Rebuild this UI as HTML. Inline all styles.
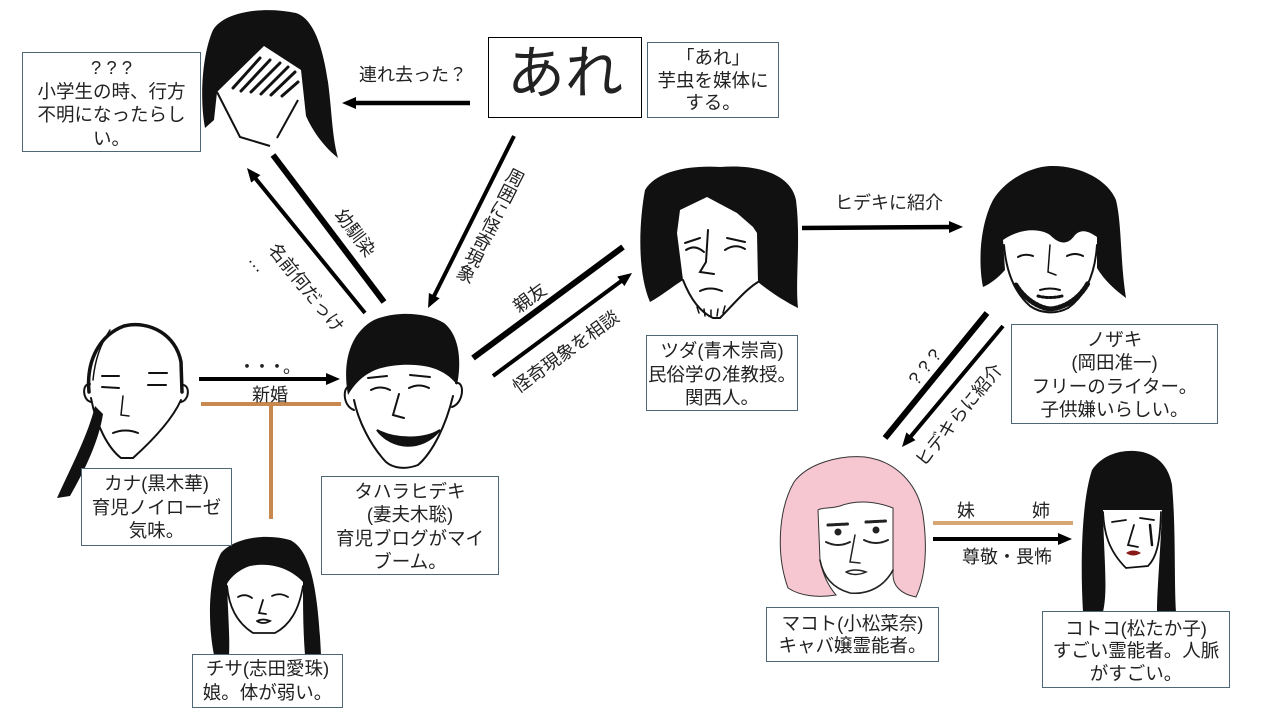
<!DOCTYPE html>
<html><head><meta charset="utf-8">
<style>
html,body{margin:0;padding:0;background:#fff;}
body{width:1280px;height:720px;position:relative;overflow:hidden;font-family:"Liberation Sans","Noto Sans CJK JP",sans-serif;color:#222;}
svg{position:absolute;left:0;top:0;}
.box{position:absolute;border:1px solid #4d6776;box-sizing:border-box;text-align:center;font-size:18.5px;line-height:23.5px;white-space:nowrap;background:#fff;}
.lb{position:absolute;font-size:18px;line-height:1;white-space:nowrap;transform:translate(-50%,-50%);}
.vt{writing-mode:vertical-rl;}
</style></head><body>
<svg width="1280" height="720" viewBox="0 0 1280 720">
<defs><marker id="ah" viewBox="0 0 14 12" refX="4" refY="6" markerWidth="14" markerHeight="12" markerUnits="userSpaceOnUse" orient="auto"><path d="M0,0 L14,6 L0,12 Z" fill="#000"/></marker></defs>

<!-- Face 1: hidden face -->
<path d="M205,128 C199,95 203,52 213,30 C224,12 262,6 296,13 C314,19 323,48 328,82 C332,112 332,137 338,158 C327,149 315,136 306,116 L301,70 L264,46 L217,92 L214,120 Z" fill="#111"/>
<path d="M217,92 L240,137 L270,146" fill="none" stroke="#111" stroke-width="2"/>
<path d="M298,100 L277,138" stroke="#111" stroke-width="2"/>
<g stroke="#111" stroke-width="3" stroke-linecap="round">
<line x1="233" y1="88" x2="260" y2="58"/>
<line x1="241" y1="91" x2="270" y2="60"/>
<line x1="251" y1="92" x2="280" y2="63"/>
<line x1="261" y1="94" x2="288" y2="67"/>
<line x1="271" y1="95" x2="295" y2="72"/>
<line x1="282" y1="96" x2="298" y2="82"/>
</g>

<!-- Face 2: Hideki -->
<path d="M348,395 C342,362 350,333 374,320 C395,311 426,312 444,323 C459,335 462,360 457,385 C452,378 446,374 440,371 C425,363 396,363 378,369 C364,374 355,383 348,395 Z" fill="#111"/>
<g fill="none" stroke="#111" stroke-width="2" stroke-linecap="round">
<path d="M354,400 C358,420 370,445 386,462 C393,468 405,470 418,465 C433,452 446,425 453,396"/>
<path d="M352,386 C342,384 342,406 354,410"/>
<path d="M456,383 C465,381 464,403 452,407"/>
<path d="M368,378 L387,376"/><path d="M410,375 L430,377"/>
<path d="M371,390 Q380,385 390,390"/><path d="M409,388 Q419,383 429,388"/>
<path d="M399,394 L393,415 L404,418"/>
</g>
<path d="M377,430 C392,450 422,452 440,430 C425,440 395,440 377,430 Z" fill="#111" stroke="#111" stroke-width="2"/>

<!-- Face 3: Kana -->
<g fill="none" stroke="#111" stroke-linecap="round">
<path d="M89,392 C86,360 100,335 124,326 C150,320 176,335 181,362 L182,392" stroke-width="3.5"/>
<path d="M110,330 C100,345 95,360 93,380" stroke-width="1.5"/>
<path d="M91,398 C96,425 108,448 121,458 L133,458 C153,440 172,420 181,400" stroke-width="2"/>
<path d="M90,384 C82,383 82,400 91,402" stroke-width="2"/>
<path d="M182,385 C190,384 190,400 181,402" stroke-width="2"/>
<path d="M102,376 L119,376" stroke-width="2"/><path d="M149,373 L167,373" stroke-width="2"/>
<path d="M102,387 L119,388" stroke-width="2"/><path d="M148,385 L166,385" stroke-width="2"/>
<path d="M123,396 L121,415 L129,416" stroke-width="1.5"/>
<path d="M113,433 Q125,428 138,433" stroke-width="2"/>
</g>
<path d="M95,406 C88,435 72,465 57,498 L70,496 C86,468 99,440 103,414 Z" fill="#111"/>

<!-- Face 4: Chisa -->
<path d="M214,655 C207,620 209,575 221,553 C234,538 265,533 290,540 C311,550 318,590 321,655 L305,655 C303,630 303,605 303,582 C290,568 270,562 250,566 C238,570 230,578 227,584 C228,612 230,640 229,655 Z" fill="#111"/>
<g fill="none" stroke="#111" stroke-width="1.8" stroke-linecap="round">
<path d="M227,586 C229,606 236,622 253,633 L275,633 C290,625 299,610 303,586"/>
<path d="M238,597 Q245,593 252,598"/><path d="M272,596 Q280,592 288,597"/>
<path d="M263,600 L259,613 L266,614"/>
<path d="M257,621 Q263,618 270,621 Q263,625 257,621"/>
</g>

<!-- Face 5: Tsuda -->
<path d="M650,302 C637,272 639,222 645,190 C656,171 690,165 720,167 C760,164 791,175 796,200 C801,240 795,280 798,308 C786,302 770,292 758,282 L757,233 L753,227 L737,213 L707,197 L680,210 L677,233 L683,280 C672,287 661,296 650,302 Z" fill="#111"/>
<g fill="none" stroke="#111" stroke-width="2" stroke-linecap="round">
<path d="M683,280 C690,298 700,312 713,318 L720,318 C733,305 745,290 758,282"/>
<path d="M686,250 Q695,244 704,252"/><path d="M725,250 Q735,243 745,249"/>
<path d="M685,243 L700,238"/><path d="M727,238 L745,242"/>
<path d="M708,230 L706,262 L700,272 L714,274"/>
<path d="M700,291 Q710,286 722,291"/>
<path d="M697,307 L699,313 M704,309 L705,316 M711,310 L711,317 M718,309 L717,316 M725,306 L723,313" stroke-width="1.5"/>
</g>

<!-- Face 6: Nozaki -->
<path d="M983,287 C978,262 980,225 993,200 C1005,180 1030,167 1050,166 C1080,165 1108,180 1116,200 C1122,225 1120,260 1126,298 C1115,290 1104,280 1097,268 L1097,237 C1090,232 1082,228 1075,235 C1068,245 1060,245 1050,235 C1040,228 1020,228 1003,240 L1005,270 C998,278 990,284 983,287 Z" fill="#111"/>
<g fill="none" stroke="#111" stroke-linecap="round">
<path d="M1004,245 C1006,270 1014,292 1030,306 C1040,313 1055,315 1068,308 C1085,296 1095,275 1097,245" stroke-width="2"/>
<path d="M1018,257 Q1025,253 1033,256" stroke-width="2"/><path d="M1067,256 Q1075,252 1083,256" stroke-width="2"/>
<path d="M1050,245 L1048,272 L1056,275" stroke-width="1.5"/>
<path d="M1040,290 Q1050,287 1060,290" stroke-width="2"/>
<path d="M1016,285 C1025,300 1040,308 1050,309 C1065,308 1080,298 1088,283" stroke-width="5" stroke-dasharray="2 2"/>
<path d="M1038,296 C1045,298 1055,298 1062,296" stroke-width="3" stroke-dasharray="2 2"/>
</g>

<!-- Face 7: Makoto (pink) -->
<path d="M788,588 C776,555 778,510 794,482 C808,463 840,455 865,457 C896,461 918,484 923,515 C928,550 925,578 916,597 C900,594 893,585 893,575 L893,508 C878,502 858,499 840,506 C830,509 822,507 818,510 L820,560 C823,576 830,588 836,595 C818,598 800,596 788,588 Z" fill="#f6c6d1" stroke="#333" stroke-width="1"/>
<g fill="none" stroke="#222" stroke-linecap="round">
<path d="M820,560 C823,576 832,588 850,593 C870,595 885,585 893,570" stroke-width="1.6"/>
<path d="M828,525 L848,524" stroke-width="3" stroke-dasharray="2 1.5"/><path d="M866,522 L886,521" stroke-width="3" stroke-dasharray="2 1.5"/>
<circle cx="838" cy="532" r="3" fill="#222"/><circle cx="876" cy="530" r="3" fill="#222"/>
<path d="M826,542 Q838,548 850,542" stroke-width="2"/><path d="M864,540 Q876,546 888,540" stroke-width="2"/>
<path d="M855,535 L850,562 L860,563" stroke-width="1.5"/>
<path d="M846,572 Q855,568 866,572 Q855,577 846,572" stroke-width="1.5"/>
</g>

<!-- Face 8: Kotoko -->
<path d="M1083,612 C1080,560 1082,500 1092,470 C1102,455 1120,450 1135,451 C1152,452 1168,462 1172,485 C1176,530 1174,580 1176,612 L1157,612 C1157,590 1160,560 1162,510 L1103,510 C1104,560 1108,590 1103,612 Z" fill="#111"/>
<g fill="none" stroke="#111" stroke-width="1.8" stroke-linecap="round">
<path d="M1103,512 C1104,532 1108,550 1126,568 L1148,566 C1156,558 1160,545 1161,512"/>
<path d="M1112,522 L1126,520"/><path d="M1140,518 L1154,520"/>
<path d="M1134,525 L1128,545 L1138,547"/>
<path d="M1150,525 L1152,545" stroke-width="2.5"/>
</g>
<path d="M1126,553 Q1133,548 1141,553 Q1133,558 1126,553 Z" fill="#8b1a1a"/>

<!-- connectors -->
<g stroke="#000" fill="none">
<line x1="470" y1="103" x2="352" y2="103" stroke-width="4.5" marker-end="url(#ah)"/>
<line x1="514" y1="136" x2="432.5" y2="299.1" stroke-width="4" marker-end="url(#ah)"/>
<line x1="273" y1="155" x2="384" y2="302" stroke-width="6"/>
<line x1="365" y1="313" x2="253.3" y2="175.8" stroke-width="4" marker-end="url(#ah)"/>
<line x1="473" y1="358" x2="623" y2="247" stroke-width="6"/>
<line x1="493" y1="376" x2="624" y2="279" stroke-width="4" marker-end="url(#ah)"/>
<line x1="802" y1="228" x2="953" y2="227" stroke-width="4.5" marker-end="url(#ah)"/>
<line x1="987" y1="313" x2="885" y2="438" stroke-width="6"/>
<line x1="1003" y1="326" x2="908.4" y2="439.3" stroke-width="4" marker-end="url(#ah)"/>
<line x1="199" y1="379" x2="330" y2="379" stroke-width="4" marker-end="url(#ah)"/>
<line x1="933" y1="539" x2="1062" y2="539" stroke-width="4" marker-end="url(#ah)"/>
</g>
<g stroke="#c8894f" stroke-width="4">
<line x1="201" y1="404" x2="341" y2="404"/>
<line x1="271" y1="404" x2="271" y2="519"/>
</g>
<line x1="933" y1="523" x2="1073" y2="523" stroke="#d6a773" stroke-width="4"/>
</svg>

<!-- boxes -->
<div class="box" style="left:22px;top:52px;width:179px;height:100px;padding-top:3px;">? ? ?<br>小学生の時、行方<br>不明になったらし<br>い。</div>
<div class="box" style="left:488px;top:37px;width:154px;height:81px;border:1.5px solid #000;font-size:58px;line-height:72px;">あれ</div>
<div class="box" style="left:647px;top:42px;width:132px;height:76px;padding-top:4px;line-height:22.5px;">「あれ」<br>芋虫を媒体に<br>する。</div>
<div class="box" style="left:646px;top:335px;width:152px;height:76px;padding-top:3px;">ツダ(青木崇高)<br>民俗学の准教授。<br>関西人。</div>
<div class="box" style="left:1011px;top:324px;width:207px;height:100px;padding-top:2.5px;">ノザキ<br>(岡田准一)<br>フリーのライター。<br>子供嫌いらしい。</div>
<div class="box" style="left:81px;top:468px;width:151px;height:78px;padding-top:3px;">カナ(黒木華)<br>育児ノイローゼ<br>気味。</div>
<div class="box" style="left:321px;top:476px;width:178px;height:99px;padding-top:2.5px;">タハラヒデキ<br>(妻夫木聡)<br>育児ブログがマイ<br>ブーム。</div>
<div class="box" style="left:192px;top:654px;width:151px;height:54px;padding-top:2px;line-height:24px;">チサ(志田愛珠)<br>娘。体が弱い。</div>
<div class="box" style="left:766px;top:607px;width:173px;height:55px;padding-top:5px;line-height:22px;">マコト(小松菜奈)<br>キャバ嬢霊能者。</div>
<div class="box" style="left:1042px;top:611px;width:188px;height:77px;padding-top:5.5px;line-height:22.5px;">コトコ(松たか子)<br>すごい霊能者。人脈<br>がすごい。</div>

<!-- labels -->
<div class="lb" style="left:413px;top:75px;">連れ去った？</div>
<div class="lb vt" style="left:490px;top:225px;transform:translate(-50%,-50%) rotate(27deg);">周囲に怪奇現象</div>
<div class="lb" style="left:355px;top:233px;transform:translate(-50%,-50%) rotate(53deg);">幼馴染</div>
<div class="lb" style="left:306px;top:288px;transform:translate(-50%,-50%) rotate(51deg);">名前何だっけ</div>
<div class="lb" style="left:258px;top:263px;transform:translate(-50%,-50%) rotate(51deg);">…</div>
<div class="lb" style="left:530px;top:298px;transform:translate(-50%,-50%) rotate(-36deg);">親友</div>
<div class="lb" style="left:566px;top:352px;transform:translate(-50%,-50%) rotate(-36deg);">怪奇現象を相談</div>
<div class="lb" style="left:889px;top:203px;">ヒデキに紹介</div>
<div class="lb" style="left:925px;top:367px;transform:translate(-50%,-50%) rotate(-51deg);">? ? ?</div>
<div class="lb" style="left:959px;top:415px;transform:translate(-50%,-50%) rotate(-51deg);">ヒデキらに紹介</div>
<div class="lb" style="left:268px;top:367px;letter-spacing:-3px;">・・・。</div>
<div class="lb" style="left:270px;top:395px;">新婚</div>
<div class="lb" style="left:966px;top:511px;">妹</div>
<div class="lb" style="left:1041px;top:511px;">姉</div>
<div class="lb" style="left:1007px;top:557px;">尊敬・畏怖</div>
</body></html>
